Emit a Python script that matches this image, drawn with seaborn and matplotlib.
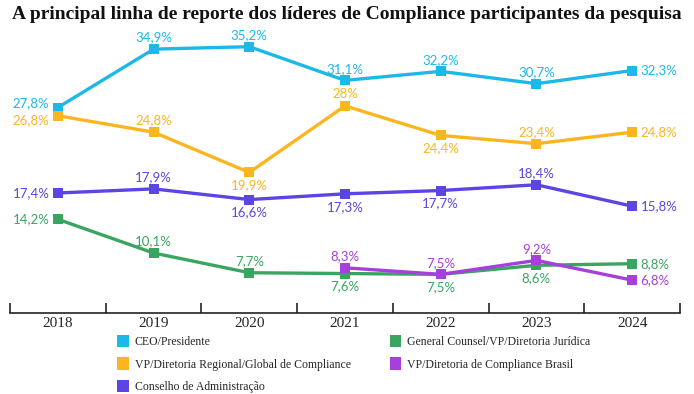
import numpy as np
import pandas as pd
import matplotlib
matplotlib.use('Agg')
import matplotlib.pyplot as plt
import seaborn as sns
from matplotlib.patches import Patch

# Data
years = ['2018', '2019', '2020', '2021', '2022', '2023', '2024']
ceo = [27.8, 34.9, 35.2, 31.1, 32.2, 30.7, 32.3]
vp_regional = [26.8, 24.8, 19.9, 28.0, 24.4, 23.4, 24.8]
conselho = [17.4, 17.9, 16.6, 17.3, 17.7, 18.4, 15.8]
general_counsel = [14.2, 10.1, 7.7, 7.6, 7.5, 8.6, 8.8]
vp_brasil = [None, None, None, 8.3, 7.5, 9.2, 6.8]

series_names = ['CEO/Presidente', 'VP/Diretoria Regional/Global de Compliance',
                'Conselho de Administração', 'General Counsel/VP/Diretoria Jurídica',
                'VP/Diretoria de Compliance Brasil']
series_values = [ceo, vp_regional, conselho, general_counsel, vp_brasil]
colors = ['#1cb9e8', '#fbb61f', '#5b45e3', '#3aa560', '#a63fdc']

# label placement for each point: 'l' left, 'r' right, 'a' above, 'b' below
placements = [
    ['l', 'a', 'a', 'a', 'a', 'a', 'r'],
    ['l', 'a', 'b', 'a', 'b', 'a', 'r'],
    ['l', 'a', 'b', 'b', 'b', 'a', 'r'],
    ['l', 'a', 'a', 'b', 'b', 'b', 'r'],
    [None, None, None, 'a', 'a', 'a', 'r'],
]
# small vertical nudges (points) for the crowded 2018 labels
nudges = {(0, 0): 3, (1, 0): -3}

sns.set_style('white')
fig = plt.figure(figsize=(6.94, 3.94), dpi=100)
ax = fig.add_axes([10 / 694, 81 / 394, 670 / 694, 283 / 394])

x_pos = np.arange(len(years))
for si, (name, vals, col, plc) in enumerate(zip(series_names, series_values, colors, placements)):
    df = pd.DataFrame({'x': x_pos, 'y': vals}).dropna()
    sns.lineplot(data=df, x='x', y='y', ax=ax, color=col, linewidth=2.4,
                 marker='s', markersize=7, markeredgewidth=0, label=name)
    for xi, yi, p in zip(x_pos, vals, plc):
        if yi is None:
            continue
        txt = f'{yi:g}'.replace('.', ',') + '%'
        kw = dict(color=col, fontsize=9.5, family='Lato')
        dy = nudges.get((si, xi), 0)
        if p == 'l':
            ax.annotate(txt, (xi, yi), xytext=(-6, dy), textcoords='offset points',
                        ha='right', va='center', **kw)
        elif p == 'r':
            ax.annotate(txt, (xi, yi), xytext=(6, 0), textcoords='offset points',
                        ha='left', va='center', **kw)
        elif p == 'a':
            ax.annotate(txt, (xi, yi), xytext=(0, 4), textcoords='offset points',
                        ha='center', va='bottom', **kw)
        else:
            ax.annotate(txt, (xi, yi), xytext=(0, -5), textcoords='offset points',
                        ha='center', va='top', **kw)

ax.legend_.remove()
ax.set_xlim(-0.5, len(years) - 0.5)
ax.set_ylim(2.8, 37.23)
ax.set_xlabel('')
ax.set_ylabel('')
ax.set_yticks([])
ax.set_xticks(x_pos)
ax.set_xticklabels(years, family='Liberation Serif', fontsize=11)
ax.set_xticks(np.arange(-0.5, len(years)), minor=True)
ax.tick_params(axis='x', which='major', bottom=False, length=0, pad=3)
ax.tick_params(axis='x', which='minor', bottom=True, direction='in', length=7,
               width=1.2, color='#222222')
for s in ['top', 'left', 'right']:
    ax.spines[s].set_visible(False)
ax.spines['bottom'].set_color('#222222')
ax.spines['bottom'].set_linewidth(1.2)

fig.text(0.5, 0.985, 'A principal linha de reporte dos líderes de Compliance participantes da pesquisa',
         ha='center', va='top', fontsize=14.0, fontweight='bold', family='Liberation Serif',
         color='#111111')

handles = [Patch(facecolor=c, edgecolor='none') for c in colors]
fig.legend(handles, series_names, ncol=2, loc='upper left',
           bbox_to_anchor=(117 / 694, 1 - 335 / 394),
           frameon=False, prop={'family': 'Liberation Serif', 'size': 8.5},
           borderpad=0, borderaxespad=0,
           handlelength=1.0, handleheight=1.2, handletextpad=0.5, columnspacing=3.3,
           labelspacing=0.8)

fig.savefig('out.png', dpi=100)
